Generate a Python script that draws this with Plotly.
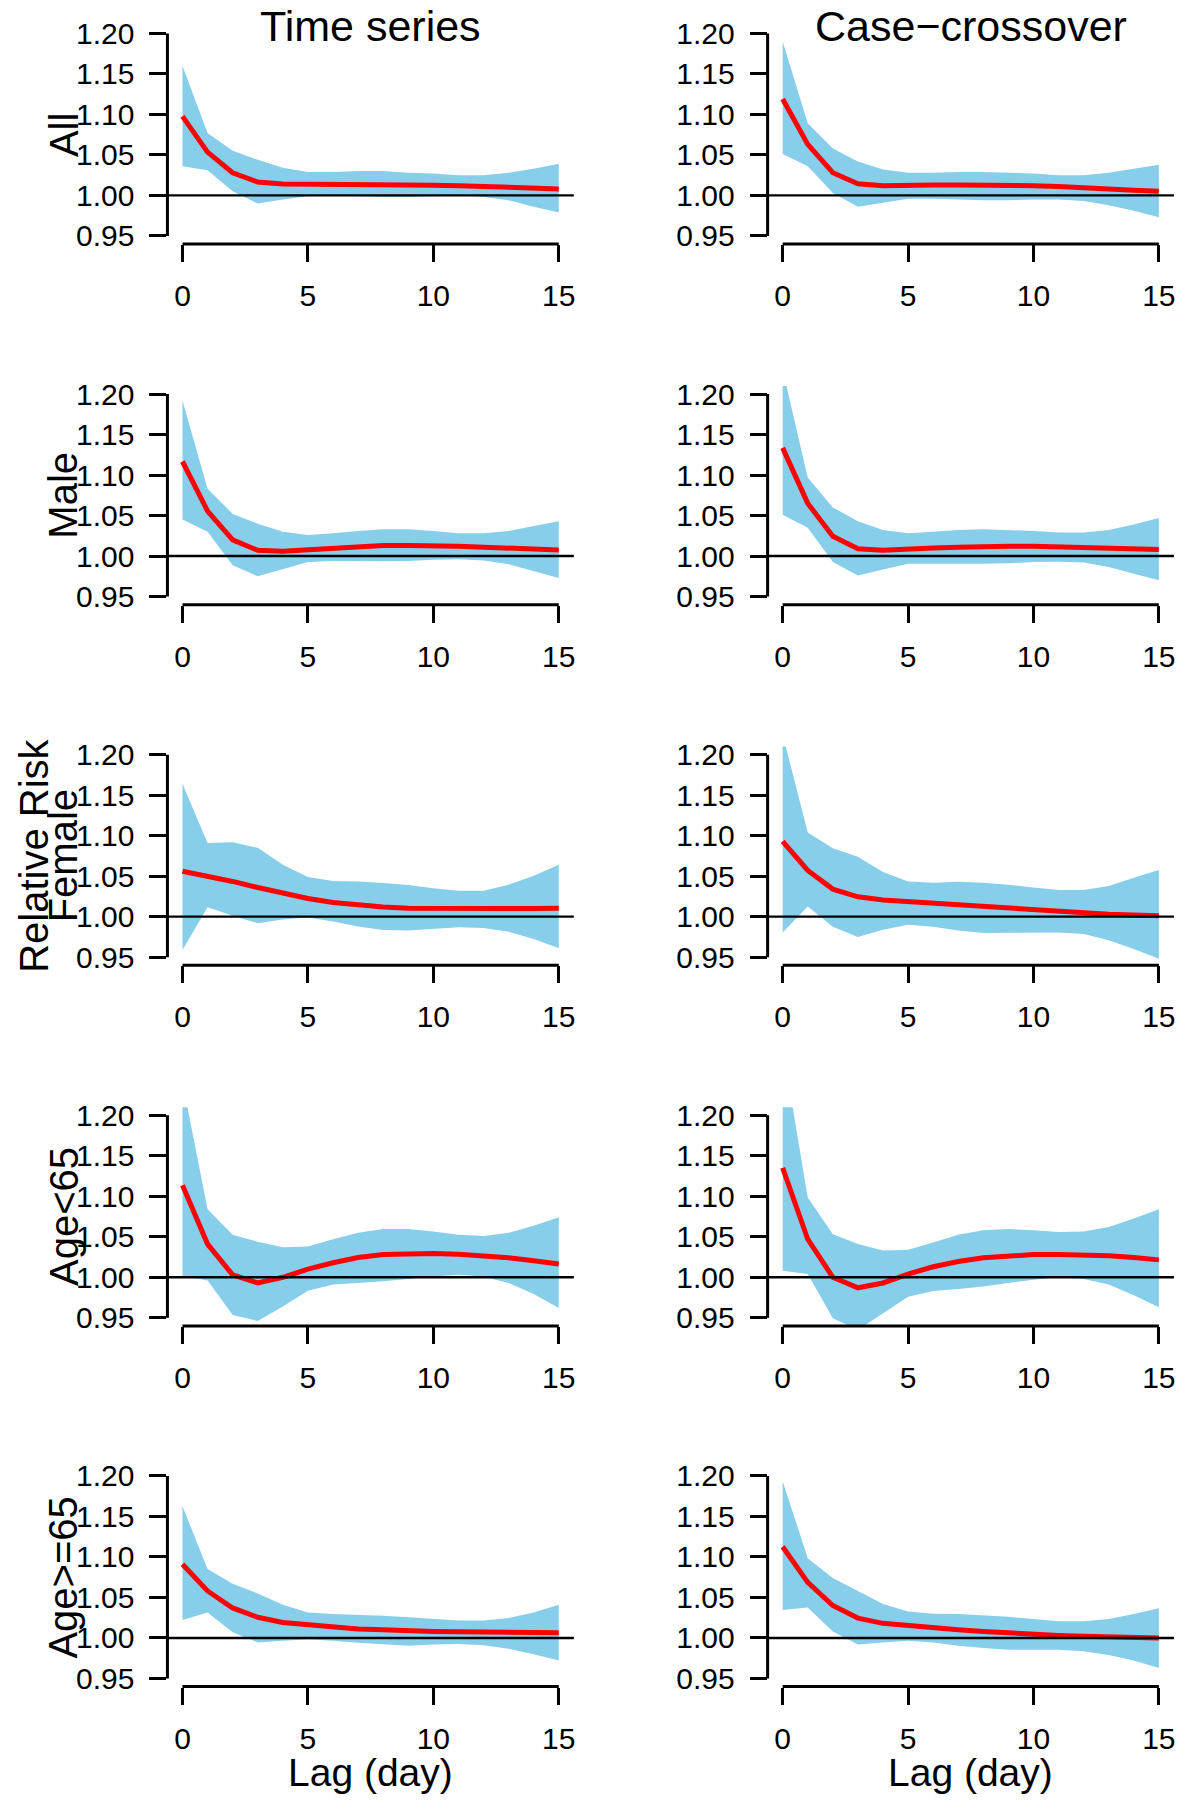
import plotly.graph_objects as go

# ---------------- data ----------------
lags = list(range(16))
x_ticks = [0, 5, 10, 15]
y_ticks = [0.95, 1.00, 1.05, 1.10, 1.15, 1.20]
y_ticklabels = ["0.95", "1.00", "1.05", "1.10", "1.15", "1.20"]
col_titles = ["Time series", "Case\u2212crossover"]
row_labels = ["All", "Male", "Female", "Age<65", "Age>=65"]

# Time series
ts_all_rr = [1.0975, 1.0535, 1.028, 1.0165, 1.014, 1.014, 1.014, 1.014, 1.0135, 1.013, 1.0125, 1.012, 1.011, 1.010, 1.009, 1.008]
ts_all_hi = [1.160, 1.077, 1.055, 1.044, 1.034, 1.029, 1.029, 1.030, 1.030, 1.028, 1.027, 1.025, 1.025, 1.028, 1.033, 1.039]
ts_all_lo = [1.036, 1.031, 1.005, 0.990, 0.995, 0.999, 1.000, 0.999, 0.998, 0.998, 0.999, 1.000, 0.998, 0.994, 0.986, 0.979]

ts_male_rr = [1.1167, 1.0555, 1.020, 1.007, 1.006, 1.008, 1.010, 1.012, 1.013, 1.013, 1.013, 1.012, 1.011, 1.010, 1.009, 1.0075]
ts_male_hi = [1.192, 1.083, 1.052, 1.040, 1.030, 1.026, 1.028, 1.031, 1.033, 1.033, 1.031, 1.028, 1.028, 1.031, 1.037, 1.043]
ts_male_lo = [1.045, 1.030, 0.9885, 0.975, 0.984, 0.9925, 0.994, 0.994, 0.9935, 0.994, 0.9955, 0.996, 0.9945, 0.990, 0.9815, 0.973]

ts_female_rr = [1.056, 1.0505, 1.0435, 1.036, 1.029, 1.0225, 1.0175, 1.0145, 1.012, 1.0105, 1.010, 1.0095, 1.0095, 1.010, 1.010, 1.0105]
ts_female_hi = [1.164, 1.091, 1.092, 1.085, 1.064, 1.049, 1.044, 1.0435, 1.0415, 1.039, 1.035, 1.032, 1.032, 1.0395, 1.0505, 1.064]
ts_female_lo = [0.959, 1.0115, 1.001, 0.992, 0.9965, 0.999, 0.994, 0.988, 0.9835, 0.983, 0.985, 0.987, 0.986, 0.9815, 0.9725, 0.961]

ts_young_rr = [1.1135, 1.041, 1.003, 0.993, 1.000, 1.010, 1.018, 1.0245, 1.028, 1.0295, 1.0295, 1.0285, 1.0265, 1.024, 1.0205, 1.0165]
ts_young_hi = [1.241, 1.084, 1.0525, 1.044, 1.037, 1.038, 1.047, 1.055, 1.0595, 1.0595, 1.0565, 1.0525, 1.051, 1.055, 1.0635, 1.074]
ts_young_lo = [1.002, 0.996, 0.9535, 0.946, 0.964, 0.9835, 0.991, 0.993, 0.995, 0.998, 1.001, 1.003, 1.001, 0.993, 0.9795, 0.962]

ts_old_rr = [1.091, 1.058, 1.037, 1.0255, 1.019, 1.016, 1.013, 1.011, 1.010, 1.0085, 1.008, 1.0075, 1.007, 1.007, 1.007, 1.0065]
ts_old_hi = [1.1625, 1.085, 1.067, 1.055, 1.041, 1.0315, 1.0295, 1.0285, 1.0275, 1.0255, 1.0235, 1.0215, 1.0215, 1.0245, 1.0315, 1.041]
ts_old_lo = [1.022, 1.0315, 1.007, 0.9945, 0.9965, 0.998, 0.9965, 0.994, 0.992, 0.9905, 0.992, 0.9925, 0.991, 0.9865, 0.980, 0.972]

# Case-crossover
cc_all_rr = [1.119, 1.063, 1.028, 1.0145, 1.012, 1.013, 1.013, 1.013, 1.013, 1.0125, 1.012, 1.011, 1.010, 1.008, 1.0065, 1.005]
cc_all_hi = [1.190, 1.089, 1.058, 1.042, 1.032, 1.028, 1.028, 1.029, 1.029, 1.028, 1.027, 1.025, 1.025, 1.028, 1.033, 1.038]
cc_all_lo = [1.051, 1.036, 1.003, 0.986, 0.991, 0.996, 0.996, 0.995, 0.994, 0.994, 0.995, 0.995, 0.993, 0.988, 0.981, 0.973]

cc_male_rr = [1.1335, 1.065, 1.0245, 1.009, 1.007, 1.009, 1.010, 1.011, 1.012, 1.012, 1.012, 1.0115, 1.011, 1.010, 1.009, 1.008]
cc_male_hi = [1.230, 1.097, 1.060, 1.043, 1.032, 1.028, 1.030, 1.032, 1.033, 1.032, 1.031, 1.029, 1.029, 1.032, 1.039, 1.047]
cc_male_lo = [1.051, 1.035, 0.9925, 0.976, 0.9835, 0.9905, 0.991, 0.9905, 0.9905, 0.991, 0.9925, 0.993, 0.992, 0.9865, 0.978, 0.970]

cc_female_rr = [1.093, 1.057, 1.034, 1.0245, 1.0205, 1.0185, 1.0165, 1.0145, 1.0125, 1.010, 1.0085, 1.0065, 1.005, 1.003, 1.002, 1.001]
cc_female_hi = [1.225, 1.104, 1.0845, 1.074, 1.055, 1.0435, 1.042, 1.043, 1.042, 1.0395, 1.036, 1.033, 1.033, 1.038, 1.048, 1.0575]
cc_female_lo = [0.9805, 1.0125, 0.9875, 0.975, 0.984, 0.990, 0.9875, 0.983, 0.980, 0.980, 0.9805, 0.9805, 0.9785, 0.971, 0.960, 0.948]

cc_young_rr = [1.135, 1.047, 1.000, 0.987, 0.993, 1.004, 1.013, 1.0195, 1.024, 1.0265, 1.028, 1.028, 1.028, 1.0265, 1.0245, 1.0215]
cc_young_hi = [1.284, 1.0985, 1.053, 1.041, 1.033, 1.034, 1.043, 1.0525, 1.058, 1.0595, 1.058, 1.056, 1.0565, 1.062, 1.0725, 1.084]
cc_young_lo = [1.008, 1.004, 0.9495, 0.935, 0.955, 0.976, 0.983, 0.9855, 0.9885, 0.993, 0.997, 1.000, 0.998, 0.991, 0.978, 0.963]

cc_old_rr = [1.1125, 1.0685, 1.040, 1.0245, 1.018, 1.015, 1.012, 1.010, 1.008, 1.006, 1.0045, 1.003, 1.002, 1.001, 1.0005, 1.000]
cc_old_hi = [1.1935, 1.0985, 1.074, 1.058, 1.042, 1.0325, 1.030, 1.0295, 1.028, 1.026, 1.0235, 1.0205, 1.0205, 1.0235, 1.0295, 1.0365]
cc_old_lo = [1.0345, 1.0375, 1.008, 0.992, 0.9945, 0.9965, 0.9945, 0.9905, 0.9875, 0.9855, 0.9855, 0.9855, 0.9835, 0.979, 0.972, 0.963]

panels = [
    [(ts_all_rr, ts_all_lo, ts_all_hi), (cc_all_rr, cc_all_lo, cc_all_hi)],
    [(ts_male_rr, ts_male_lo, ts_male_hi), (cc_male_rr, cc_male_lo, cc_male_hi)],
    [(ts_female_rr, ts_female_lo, ts_female_hi), (cc_female_rr, cc_female_lo, cc_female_hi)],
    [(ts_young_rr, ts_young_lo, ts_young_hi), (cc_young_rr, cc_young_lo, cc_young_hi)],
    [(ts_old_rr, ts_old_lo, ts_old_hi), (cc_old_rr, cc_old_lo, cc_old_hi)],
]

# ---------------- layout ----------------
OFF = 8                      # default page body margin
FW, FH = 1200 - 2 * OFF, 1802 - 2 * OFF
VS = 0.99                    # empirical vertical correction
FONT = "Liberation Sans, Arial, Helvetica, sans-serif"
TICK_SIZE = 30
TITLE_SIZE = 43
LAB_SIZE = 40
XLAB_SIZE = 39
BAND = "#87CEEB"
AXW = 3

x_range = [-0.6, 15.6]
y_range = [0.94, 1.21]

col_px = [(167.7, 574.8), (768.9, 1175.9)]   # target pixel positions of plot regions
row_top0, row_bot0, row_step = 25.2, 243.7, 360.25


def px_x(p):
    return (p - OFF) / FW


def px_y(p):
    page = (p - OFF) / VS
    return 1 - (page - OFF) / FH


fig = go.Figure()
layout = dict(width=FW, height=FH, margin=dict(l=0, r=0, t=0, b=0),
              paper_bgcolor="white", plot_bgcolor="white", showlegend=False,
              font=dict(family=FONT, color="black"))
shapes = []
annotations = []

k = 0
for r in range(5):
    top = row_top0 + r * row_step
    bot = row_bot0 + r * row_step
    for c in range(2):
        k += 1
        xa = "x" if k == 1 else f"x{k}"
        ya = "y" if k == 1 else f"y{k}"
        rr, lo, hi = panels[r][c]
        fig.add_trace(go.Scatter(
            x=lags + lags[::-1], y=hi + lo[::-1], fill="toself",
            fillcolor=BAND, line=dict(width=0, color=BAND), mode="lines",
            hoverinfo="skip", xaxis=xa, yaxis=ya))
        fig.add_trace(go.Scatter(
            x=lags, y=rr, mode="lines", line=dict(color="#FF0000", width=5),
            xaxis=xa, yaxis=ya))
        layout[f"xaxis{k if k > 1 else ''}"] = dict(
            domain=[px_x(col_px[c][0]), px_x(col_px[c][1])], anchor=ya,
            range=x_range, tickvals=x_ticks, ticks="outside", ticklen=17,
            tickwidth=AXW, tickcolor="black", showline=False, showgrid=False,
            zeroline=False, ticklabelstandoff=8,
            tickfont=dict(size=TICK_SIZE, family=FONT, color="black"))
        layout[f"yaxis{k if k > 1 else ''}"] = dict(
            domain=[px_y(bot), px_y(top)], anchor=xa,
            range=y_range, tickvals=y_ticks, ticktext=y_ticklabels,
            ticks="outside", ticklen=17, tickwidth=AXW, tickcolor="black",
            showline=False, showgrid=False, zeroline=False,
            ticklabelstandoff=9,
            tickfont=dict(size=TICK_SIZE, family=FONT, color="black"))
        # R-style axis lines spanning only the tick range
        shapes.append(dict(type="line", xref=xa, yref=f"{ya} domain",
                           x0=x_ticks[0], x1=x_ticks[-1], y0=0, y1=0,
                           line=dict(color="black", width=AXW)))
        shapes.append(dict(type="line", xref=f"{xa} domain", yref=ya,
                           x0=0, x1=0, y0=y_ticks[0], y1=y_ticks[-1],
                           line=dict(color="black", width=AXW)))
        # reference line at RR = 1
        shapes.append(dict(type="line", xref=f"{xa} domain", yref=ya,
                           x0=0, x1=1, y0=1, y1=1,
                           line=dict(color="black", width=2.4)))
        if r == 0:
            annotations.append(dict(text=col_titles[c], xref=f"{xa} domain", yref="paper",
                                    x=0.5, y=px_y(26), xanchor="center", yanchor="middle",
                                    showarrow=False, font=dict(size=TITLE_SIZE, family=FONT)))
        if r == 4:
            annotations.append(dict(text="Lag (day)", xref=f"{xa} domain", yref="paper",
                                    x=0.5, y=px_y(1771), xanchor="center", yanchor="middle",
                                    showarrow=False, font=dict(size=XLAB_SIZE, family=FONT)))
        if c == 0:
            annotations.append(dict(text=row_labels[r], xref="paper", yref=f"{ya} domain",
                                    x=px_x(63.5), y=0.5, xanchor="center", yanchor="middle",
                                    textangle=-90, showarrow=False,
                                    font=dict(size=LAB_SIZE, family=FONT)))
            if r == 2:
                annotations.append(dict(text="Relative Risk", xref="paper", yref=f"{ya} domain",
                                        x=px_x(34), y=0.5, xanchor="center", yanchor="middle",
                                        textangle=-90, showarrow=False,
                                        font=dict(size=LAB_SIZE, family=FONT)))

layout["shapes"] = shapes
layout["annotations"] = annotations
fig.update_layout(**layout)
fig.write_html("out.html")
